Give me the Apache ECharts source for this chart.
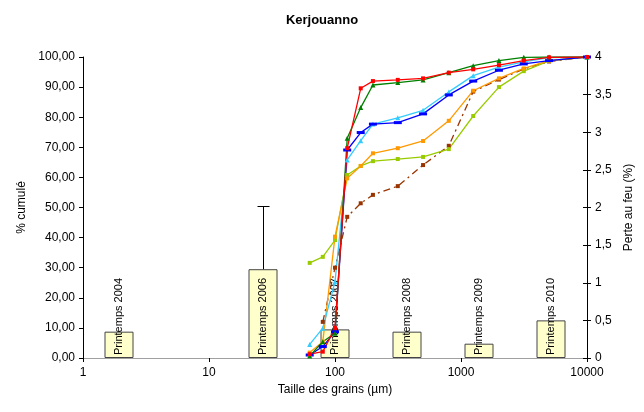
<!DOCTYPE html>
<html>
<head>
<meta charset="utf-8">
<script src="https://cdn.jsdelivr.net/npm/echarts@6/dist/echarts.min.js"></script>
<style>
  html, body { margin: 0; padding: 0; background: #fff; }
  #chart { width: 644px; height: 412px; }
</style>
</head>
<body>
<div id="chart"></div>
<script>
// tailles des tamis (µm)
const sizes = [63, 80, 100, 125, 160, 200, 315, 500, 800, 1250, 2000, 3150, 5000, 10000];

// % cumulé par campagne
const redVals    = [1.3, 2.1, 10.0, 69.7, 89.6, 92.0, 92.4, 92.9, 94.8, 95.9, 97.3, 98.8, 99.9, 100];
const greenVals  = [0.7, 5.4, 8.2, 73.0, 83.2, 90.7, 91.5, 92.4, 94.8, 97.1, 98.8, 99.9, 100, 100];
const blueVals   = [1.0, 3.8, 8.7, 69.1, 74.9, 77.7, 78.2, 81.1, 87.4, 92.0, 95.6, 97.7, 98.8, 100];
const cyanVals   = [4.5, 9.9, 25.3, 65.8, 72.2, 77.7, 79.8, 82.3, 88.4, 93.8, 96.6, 98.4, 99.8, 100];
const orangeVals = [1.8, 5.4, 40.3, 59.7, 63.8, 68.0, 69.7, 72.1, 78.8, 88.8, 92.9, 96.2, 98.8, 100];
const limeVals   = [31.6, 33.6, 39.2, 60.8, 63.8, 65.4, 66.1, 66.8, 69.4, 80.4, 90.0, 95.3, 98.7, 100];
const brownVals  = [null, 12.0, 30.0, 46.9, 51.4, 54.2, 57.1, 64.1, 70.5, 88.5, 92.5, 96.0, 98.5, 100];

// perte au feu (%)
const seasons = ['Printemps 2004', 'Printemps 2005', 'Printemps 2006', 'Printemps 2007',
                 'Printemps 2008', 'Printemps 2009', 'Printemps 2010'];
const lossVals = [0.35, null, 1.18, 0.38, 0.35, 0.19, 0.5];
const lossErrTop = [null, null, 2.02, null, null, null, null];

const xTicks = { 1: '1', 10: '10', 100: '100', 1000: '1000', 10000: '10000' };
const leftTicks = ['0,00', '10,00', '20,00', '30,00', '40,00', '50,00', '60,00', '70,00', '80,00', '90,00', '100,00'];
const rightTicks = ['0', '0,5', '1', '1,5', '2', '2,5', '3', '3,5', '4'];

const FONT = 'Liberation Sans, Arial, sans-serif';

function pairs(vals) {
  return sizes.map((s, i) => [s, vals[i]]).filter(p => p[1] != null);
}

function lineSeries(vals, color, symbol, symbolSize, lineType) {
  return {
    type: 'line',
    xAxisIndex: 0,
    yAxisIndex: 0,
    data: pairs(vals),
    symbol: symbol,
    symbolSize: symbolSize,
    showSymbol: true,
    lineStyle: { color: color, width: 1.3, type: lineType || 'solid' },
    itemStyle: { color: color },
    z: 5
  };
}

const errData = [];
lossErrTop.forEach((v, i) => { if (v != null) errData.push([i, lossVals[i], v]); });

const chart = echarts.init(document.getElementById('chart'));
chart.setOption({
  animation: false,
  textStyle: { fontFamily: FONT },
  title: {
    text: 'Kerjouanno',
    left: 'center',
    top: 9,
    textStyle: { fontSize: 13, fontWeight: 'bold', color: '#000', fontFamily: FONT }
  },
  grid: { left: 83, right: 57, top: 57, bottom: 54 },
  xAxis: [
    {
      type: 'log',
      logBase: 10,
      min: 1,
      max: 10000,
      name: 'Taille des grains (µm)',
      nameLocation: 'middle',
      nameGap: 26,
      nameTextStyle: { fontSize: 12, color: '#000' },
      axisLine: { lineStyle: { color: '#000', width: 1 } },
      axisTick: { show: true, length: 4, lineStyle: { color: '#000' } },
      minorTick: { show: false },
      axisLabel: {
        fontSize: 12, color: '#000', margin: 9,
        formatter: (v) => xTicks[Math.round(v)] || ''
      },
      splitLine: { show: false }
    },
    {
      type: 'category',
      data: seasons,
      position: 'top',
      boundaryGap: true,
      axisLine: { show: true, lineStyle: { color: '#a0a0a0', width: 1 } },
      axisTick: { show: false },
      axisLabel: { show: false },
      splitLine: { show: false }
    }
  ],
  yAxis: [
    {
      type: 'value',
      min: 0,
      max: 100,
      interval: 10,
      name: '% cumulé',
      nameLocation: 'middle',
      nameGap: 54,
      nameTextStyle: { fontSize: 12, color: '#000' },
      axisLine: { show: true, lineStyle: { color: '#000' } },
      axisTick: { show: true, length: 4, lineStyle: { color: '#000' } },
      axisLabel: {
        fontSize: 12, color: '#000', margin: 8,
        formatter: (v) => leftTicks[Math.round(v / 10)]
      },
      splitLine: { show: false }
    },
    {
      type: 'value',
      min: 0,
      max: 4,
      interval: 0.5,
      position: 'right',
      name: 'Perte au feu (%)',
      nameLocation: 'middle',
      nameRotate: 90,
      nameGap: 34,
      nameTextStyle: { fontSize: 12, color: '#000' },
      axisLine: { show: true, lineStyle: { color: '#000' } },
      axisTick: { show: true, length: 4, inside: false, lineStyle: { color: '#000' } },
      axisLabel: {
        fontSize: 12, color: '#000', margin: 8,
        formatter: (v) => rightTicks[Math.round(v * 2)]
      },
      splitLine: { show: false }
    },
    {
      // graduations intérieures de l'axe secondaire (tirets croisés)
      type: 'value',
      min: 0,
      max: 4,
      interval: 0.5,
      position: 'right',
      axisLine: { show: false },
      axisTick: { show: true, length: 4, inside: true, lineStyle: { color: '#000' } },
      axisLabel: { show: false },
      splitLine: { show: false }
    }
  ],
  series: [
    {
      type: 'bar',
      xAxisIndex: 1,
      yAxisIndex: 1,
      data: lossVals,
      barWidth: 29,
      itemStyle: { color: '#FFFFCC', borderColor: '#444', borderWidth: 1 },
      label: {
        show: true,
        position: 'insideBottom',
        rotate: 90,
        align: 'left',
        verticalAlign: 'middle',
        distance: 3,
        fontSize: 11,
        color: '#000',
        formatter: (p) => p.name
      },
      z: 2
    },
    {
      type: 'custom',
      xAxisIndex: 1,
      yAxisIndex: 1,
      data: errData,
      renderItem: function (params, api) {
        const lo = api.coord([api.value(0), api.value(1)]);
        const hi = api.coord([api.value(0), api.value(2)]);
        const x = Math.round(lo[0]) + 0.5;
        const yTop = Math.round(hi[1]) + 0.5;
        return {
          type: 'group',
          children: [
            { type: 'line', shape: { x1: x, y1: lo[1], x2: x, y2: yTop }, style: { stroke: '#000', lineWidth: 1 } },
            { type: 'line', shape: { x1: x - 6, y1: yTop, x2: x + 6, y2: yTop }, style: { stroke: '#000', lineWidth: 1 } }
          ]
        };
      },
      z: 3
    },
    lineSeries(brownVals, '#993300', 'rect', 4, [7, 4, 2, 4]),
    lineSeries(limeVals, '#99CC00', 'rect', 4),
    lineSeries(orangeVals, '#FF9900', 'rect', 4),
    lineSeries(cyanVals, '#33CCFF', 'triangle', 5),
    lineSeries(blueVals, '#0000FF', 'rect', [8, 3]),
    lineSeries(greenVals, '#008000', 'triangle', 5),
    lineSeries(redVals, '#FF0000', 'rect', 4)
  ]
});
</script>
</body>
</html>
